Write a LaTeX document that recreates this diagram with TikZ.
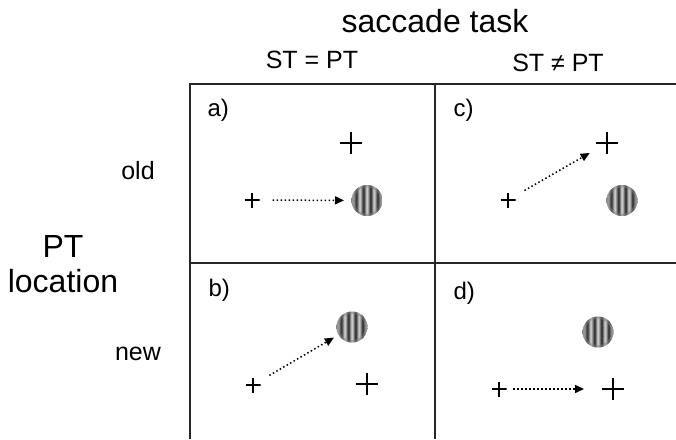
\documentclass[tikz,border=0pt]{standalone}
\usepackage{fontspec}
\setmainfont{Liberation Sans}
\usetikzlibrary{arrows.meta}
\pgfdeclarehorizontalshading{grating}{100bp}{color(0bp)=(black!45); color(25bp)=(black!40); color(27bp)=(black!25); color(32.5bp)=(black!85); color(38.25bp)=(black!12); color(44bp)=(black!88); color(49.75bp)=(black!10); color(55.5bp)=(black!88); color(61.25bp)=(black!12); color(67bp)=(black!85); color(72.75bp)=(black!25); color(75bp)=(black!40); color(100bp)=(black!45)}
\begin{document}
\begin{tikzpicture}[x=1pt,y=-1pt,
  gridline/.style={line width=2pt,black!85},
  bigcross/.style={minimum size=22pt,inner sep=0pt,outer sep=0pt,
    path picture={\draw[line width=1.8pt] (path picture bounding box.north) -- (path picture bounding box.south) (path picture bounding box.west) -- (path picture bounding box.east);}},
  smallcross/.style={minimum size=15pt,inner sep=0pt,outer sep=0pt,
    path picture={\draw[line width=1.6pt] (path picture bounding box.north) -- (path picture bounding box.south) (path picture bounding box.west) -- (path picture bounding box.east);}},
  gabor/.style={circle,minimum size=31pt,inner sep=0pt,outer sep=0pt,
    path picture={\shade[shading=grating] (path picture bounding box.south west) rectangle (path picture bounding box.north east);
      \draw[black!50,line width=2.5pt,opacity=0.5] (path picture bounding box.center) circle (14.5pt);}},
  saccade/.style={line width=1.5pt,dash pattern=on 1.5pt off 2.5pt,-{Triangle[length=9pt,width=8pt]}},
  small/.style={font=\fontsize{25}{29}\selectfont,anchor=base},
  big/.style={font=\fontsize{32}{36}\selectfont,anchor=base},
  cell/.style={font=\fontsize{24}{28}\selectfont,anchor=base west}]
\useasboundingbox (0,0) rectangle (676,439);
\fill[white] (0,0) rectangle (676,439);
% grid
\coordinate (tl) at (190,84);
\coordinate (tr) at (676,84);
\coordinate (bl) at (190,439);
\coordinate (tm) at (435,84);
\coordinate (bm) at (435,439);
\coordinate (ml) at (190,263);
\coordinate (mr) at (676,263);
\draw[gridline] (tr) -- (tl) -- (bl);
\draw[gridline] (tm) -- (bm);
\draw[gridline] (ml) -- (mr);
% headers
\node[big] (title) at (435,32) {saccade task};
\node[small] (eq) at (312,68) {ST = PT};
\node[small] (neq) at (558,71) {ST ≠ PT};
\node[small] (old) at (138,179) {old};
\node[small] (new) at (138,360) {new};
\node[big] (pt) at (63,257) {PT};
\node[big] (loc) at (63,292) {location};
% cell labels
\node[cell] (la) at (204,116) {a)};
\node[cell] (lc) at (450,116) {c)};
\node[cell] (lb) at (205,296) {b)};
\node[cell] (ld) at (450,299) {d)};
% cell a
\node[bigcross] (aB) at (351,143) {};
\node[smallcross] (aS) at (252,200) {};
\node[gabor] (aG) at (367,200.5) {};
\draw[saccade,shorten <=20.5pt,shorten >=23pt] (aS.center) -- (aG.center);
% cell c
\node[bigcross] (cB) at (607,143) {};
\node[smallcross] (cS) at (508,200) {};
\node[gabor] (cG) at (622,200.5) {};
\draw[saccade,shorten <=19pt,shorten >=20pt] (cS.center) -- (cB.center);
% cell b
\node[gabor] (bG) at (352,327) {};
\node[smallcross] (bS) at (253,385) {};
\node[bigcross] (bB) at (367,384) {};
\draw[saccade,shorten <=19pt,shorten >=21pt] (bS.center) -- (bG.center);
% cell d
\node[gabor] (dG) at (598,332) {};
\node[smallcross] (dS) at (499,389) {};
\node[bigcross] (dB) at (613,389) {};
\draw[saccade,shorten <=14pt,shorten >=29pt] (dS.center) -- (dB.center);
\end{tikzpicture}
\end{document}
